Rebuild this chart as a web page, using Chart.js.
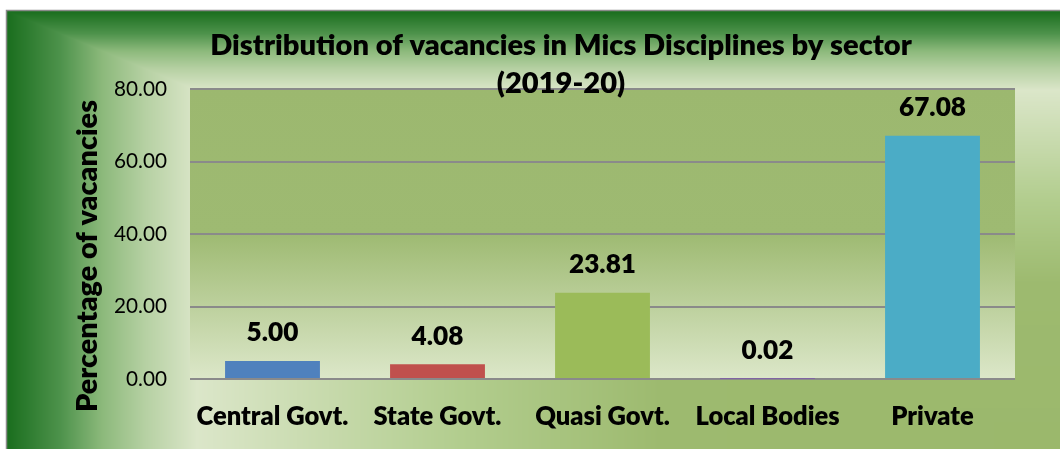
<!DOCTYPE html>
<html><head><meta charset="utf-8">
<script src="https://cdn.jsdelivr.net/npm/chart.js@4"></script>
<style>html,body{margin:0;padding:0;background:#fff;overflow:hidden} #wrap{width:1060px;height:449px;position:relative}</style>
</head><body><div id="wrap"><canvas id="c" width="1060" height="449"></canvas></div>
<script>
const categories = ['Central Govt.', 'State Govt.', 'Quasi Govt.', 'Local Bodies', 'Private'];
const vacancyShare = [5.00, 4.08, 23.81, 0.02, 67.08];
const barColors = ['#4f81bd', '#c0504d', '#9bbb59', '#8064a2', '#4bacc6'];
const yTicks = [0, 20, 40, 60, 80];
const titleLines = ['Distribution of vacancies in Mics Disciplines by sector', '(2019-20)'];
const yAxisTitle = 'Percentage of vacancies';

const FAMILY = 'Lato, "Open Sans", sans-serif';
const HEAVY = '800';
function fitSize(text, width, weight) {
  const c = document.createElement('canvas').getContext('2d');
  c.font = weight + ' 100px ' + FAMILY;
  return 100 * width / c.measureText(text).width;
}
const titleSize = fitSize(titleLines[0], 702, HEAVY);
const yTitleSize = fitSize(yAxisTitle, 312, HEAVY);
const tickSize = fitSize('80.00', 53, 'normal');
const valueSize = fitSize('67.08', 67, HEAVY);
const catSize = fitSize('Central Govt.', 152, HEAVY);

const stops = [[0,[155,184,108]],[0.38,[157,186,111]],[0.57,[178,205,142]],[0.82,[219,230,201]],[0.87,[181,208,162]],[0.91,[140,185,123]],[0.95,[77,146,75]],[1,[26,110,30]]];
function colAt(t) {
  t = Math.max(0, Math.min(1, t));
  for (let i = 1; i < stops.length; i++) {
    if (t <= stops[i][0]) {
      const a = stops[i-1], b = stops[i];
      const f = (t - a[0]) / (b[0] - a[0]);
      return [0,1,2].map(k => a[1][k] + (b[1][k] - a[1][k]) * f);
    }
  }
  return stops[stops.length-1][1];
}

const backgroundPlugin = {
  id: 'bg',
  beforeDraw(chart) {
    const ctx = chart.ctx;
    const W = chart.width, H = chart.height;
    const x0 = 7, y0 = 11, x1 = W, y1 = H;
    const bw = x1 - x0, bh = y1 - y0;
    const img = ctx.createImageData(W, H);
    const d = img.data;
    for (let y = 0; y < H; y++) {
      for (let x = 0; x < W; x++) {
        const i = (y * W + x) * 4;
        if (x < x0 || y < y0) { d[i]=255; d[i+1]=255; d[i+2]=255; d[i+3]=255; continue; }
        const t = Math.max((x1 - x) / bw, (y1 - y) / bh);
        const c = colAt(t);
        d[i]=c[0]; d[i+1]=c[1]; d[i+2]=c[2]; d[i+3]=255;
      }
    }
    ctx.putImageData(img, 0, 0);
    ctx.save();
    ctx.strokeStyle = '#8a8a8a';
    ctx.lineWidth = 1.5;
    ctx.beginPath();
    ctx.moveTo(x0 - 0.5, H); ctx.lineTo(x0 - 0.5, y0 - 0.5); ctx.lineTo(W, y0 - 0.5);
    ctx.stroke();
    const a = chart.chartArea;
    const g = ctx.createLinearGradient(0, a.top, 0, a.bottom);
    g.addColorStop(0, '#9cb86f');
    g.addColorStop(0.5, '#9eba72');
    g.addColorStop(1, '#dce7c9');
    ctx.fillStyle = g;
    ctx.fillRect(a.left, a.top, a.right - a.left, a.bottom - a.top);
    ctx.restore();
  }
};

const textPlugin = {
  id: 'texts',
  afterDatasetsDraw(chart) {
    const ctx = chart.ctx;
    ctx.save();
    ctx.fillStyle = '#000';
    ctx.font = HEAVY + ' ' + valueSize + 'px ' + FAMILY;
    ctx.textAlign = 'center';
    ctx.textBaseline = 'middle';
    const meta = chart.getDatasetMeta(0);
    meta.data.forEach((bar, i) => {
      ctx.fillText(vacancyShare[i].toFixed(2), bar.x, bar.y - 28);
    });
    ctx.font = HEAVY + ' ' + titleSize + 'px ' + FAMILY;
    ctx.textBaseline = 'alphabetic';
    ctx.fillText(titleLines[0], 561, 55);
    ctx.fillText(titleLines[1], 561, 93);
    ctx.font = HEAVY + ' ' + yTitleSize + 'px ' + FAMILY;
    ctx.translate(97, 256);
    ctx.rotate(-Math.PI / 2);
    ctx.fillText(yAxisTitle, 0, 0);
    ctx.restore();
  }
};

new Chart(document.getElementById('c'), {
  type: 'bar',
  data: {
    labels: categories,
    datasets: [{
      data: vacancyShare,
      backgroundColor: barColors,
      borderWidth: 0,
      categoryPercentage: 1,
      barPercentage: 0.575
    }]
  },
  options: {
    responsive: false,
    animation: false,
    devicePixelRatio: 1,
    layout: { padding: { left: 0, right: 45, top: 89, bottom: 0 } },
    plugins: { legend: { display: false }, tooltip: { enabled: false }, title: { display: false } },
    scales: {
      x: {
        grid: { display: false, drawTicks: false },
        border: { display: false },
        ticks: { color: '#000', font: { family: FAMILY, size: catSize, weight: HEAVY }, padding: 22, maxRotation: 0, autoSkip: false },
        afterFit(s) { s.height = 70; }
      },
      y: {
        min: 0, max: 80,
        afterBuildTicks(s) { s.ticks = yTicks.map(v => ({ value: v })); },
        grid: { color: '#8a8a8a', lineWidth: 2, drawTicks: false },
        border: { display: false },
        ticks: { color: '#000', font: { family: FAMILY, size: tickSize }, padding: 23, callback: v => Number(v).toFixed(2) },
        afterFit(s) { s.width = 190; }
      }
    }
  },
  plugins: [backgroundPlugin, textPlugin]
});
</script>
</body></html>
